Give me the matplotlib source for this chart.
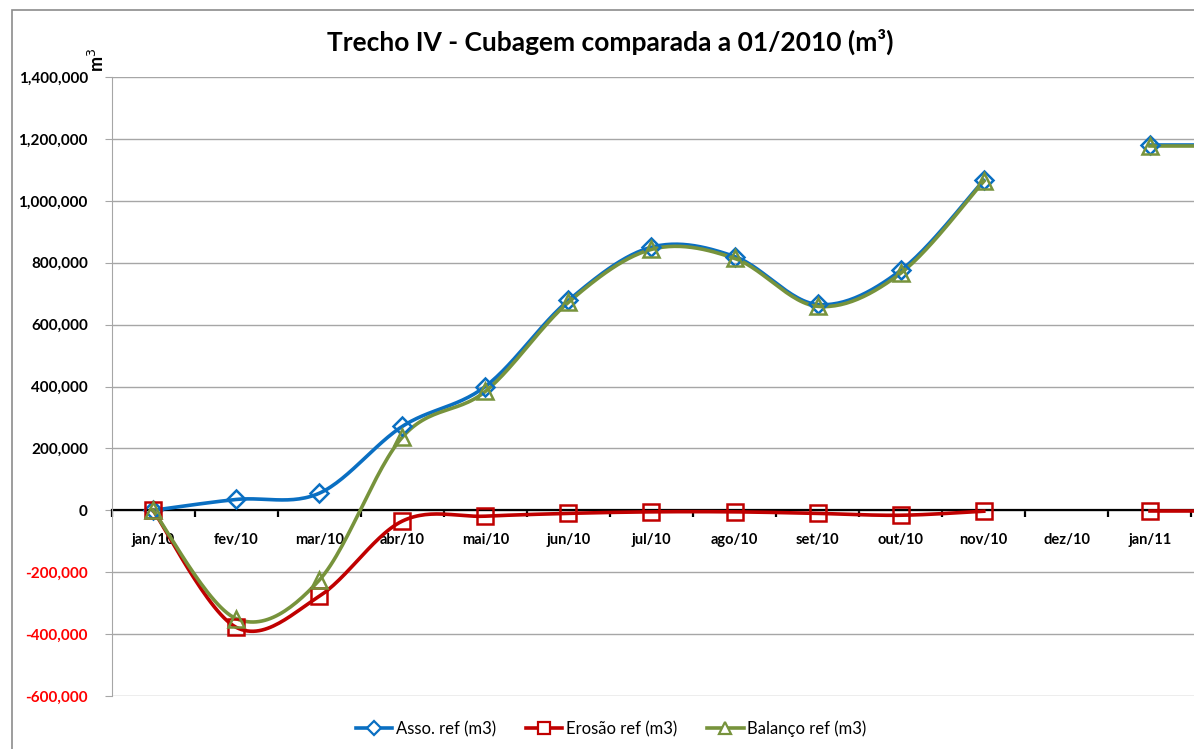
import numpy as np
import matplotlib.pyplot as plt
from matplotlib.lines import Line2D
from matplotlib.patches import Rectangle
import matplotlib.ticker as ticker

plt.rcParams['font.family'] = ['Lato', 'DejaVu Sans']

meses = ["jan/10", "fev/10", "mar/10", "abr/10", "mai/10", "jun/10", "jul/10",
         "ago/10", "set/10", "out/10", "nov/10", "dez/10", "jan/11", "fev/11"]

# dez/10 sem medição (None)
asso = [0, 35000, 55000, 271000, 400000, 678000, 850000,
        820000, 665000, 775000, 1066000, None, 1179000, 1179000]
erosao = [0, -378000, -278000, -35000, -19000, -10000, -5000,
          -5000, -10000, -16000, -3000, None, -2000, -2000]
balanco = [0, -350000, -226000, 236000, 384000, 672000, 843000,
           814000, 659000, 766000, 1063000, None, 1176000, 1176000]

series = [
    ("Asso. ref (m3)", asso, "#0A6FC2", "D", 9),
    ("Erosão ref (m3)", erosao, "#C00000", "s", 12),
    ("Balanço ref (m3)", balanco, "#77933C", "^", 11),
]


def suavizar(xs, ys, n=30):
    # curva tipo Excel (Catmull-Rom em Bezier cúbica)
    xs = np.asarray(xs, float)
    ys = np.asarray(ys, float)
    if len(xs) < 2:
        return xs, ys
    px, py = [], []
    for i in range(len(xs) - 1):
        x0, y0 = xs[max(i - 1, 0)], ys[max(i - 1, 0)]
        x1, y1 = xs[i], ys[i]
        x2, y2 = xs[i + 1], ys[i + 1]
        x3, y3 = xs[min(i + 2, len(xs) - 1)], ys[min(i + 2, len(xs) - 1)]
        c1x, c1y = x1 + (x2 - x0) / 6, y1 + (y2 - y0) / 6
        c2x, c2y = x2 - (x3 - x1) / 6, y2 - (y3 - y1) / 6
        t = np.linspace(0, 1, n)
        bx = (1-t)**3*x1 + 3*(1-t)**2*t*c1x + 3*(1-t)*t**2*c2x + t**3*x2
        by = (1-t)**3*y1 + 3*(1-t)**2*t*c1y + 3*(1-t)*t**2*c2y + t**3*y2
        px.extend(bx)
        py.extend(by)
    return np.array(px), np.array(py)


fig = plt.figure(figsize=(11.94, 7.49), dpi=100)
fig.patches.append(Rectangle((12/1194, -0.1), 1.2, 1 - 10/749 + 0.1,
                             transform=fig.transFigure, fill=False,
                             edgecolor="#8C8C8C", linewidth=1.2))

ax = fig.add_axes([111.5/1194, 1 - 696/749, 1163/1194, 619/749])
ax.set_facecolor("none")

for nome, vals, cor, mk, ms in series:
    # segmentos contínuos (quebra onde falta valor)
    seg_x, seg_y = [], []
    segs = []
    for i, v in enumerate(vals):
        if v is None:
            if seg_x:
                segs.append((seg_x, seg_y))
            seg_x, seg_y = [], []
        else:
            seg_x.append(i)
            seg_y.append(v)
    if seg_x:
        segs.append((seg_x, seg_y))
    for sx, sy in segs:
        cx, cy = suavizar(sx, sy)
        ax.plot(cx, cy, color=cor, linewidth=2.6, zorder=3)
        ax.plot(sx, sy, linestyle="none", marker=mk, markersize=ms,
                markerfacecolor="none", markeredgecolor=cor,
                markeredgewidth=1.8, zorder=4)

ax.set_xlim(-0.5, len(meses) - 0.5)
ax.set_ylim(-600000, 1400000)
ax.yaxis.set_major_locator(ticker.MultipleLocator(200000))
ax.yaxis.set_major_formatter(ticker.FuncFormatter(lambda v, p: f"{v:,.0f}"))
ax.grid(axis="y", color="#A6A6A6", linewidth=1.0, zorder=0)

ax.spines["top"].set_visible(False)
ax.spines["right"].set_visible(False)
ax.spines["left"].set_color("#A6A6A6")
ax.spines["bottom"].set_position(("data", 0))
ax.spines["bottom"].set_color("black")
ax.spines["bottom"].set_linewidth(1.6)
ax.spines["bottom"].set_zorder(2)

# só os meses visíveis recebem rótulo (fev/11 fica fora do recorte)
visiveis = meses[:-1]
ax.set_xticks(range(len(visiveis)))
ax.set_xticklabels(visiveis, fontsize=10.5, fontweight="bold")
ax.set_xticks(np.arange(-0.5, len(meses), 1), minor=True)
ax.tick_params(axis="x", which="major", length=0, pad=16)
ax.tick_params(axis="x", which="minor", length=5, width=1.6, direction="out", color="black")
ax.tick_params(axis="y", length=5, color="#A6A6A6", labelsize=11, pad=12)
fig.canvas.draw()
for lbl in ax.get_yticklabels():
    lbl.set_fontweight("bold")
    if lbl.get_position()[1] < 0:
        lbl.set_color("red")

fig.text(610/1194, 1 - 42/749, "Trecho IV - Cubagem comparada a 01/2010 (m³)",
         ha="center", va="center", fontsize=19, fontweight="bold")
fig.text(97/1194, 1 - 60/749, "m$^3$", rotation=90, ha="center", va="center",
         fontsize=13, fontweight="bold")

handles = [Line2D([0], [0], color=cor, linewidth=2.6, marker=mk, markersize=ms * 0.75,
                  markerfacecolor="white", markeredgecolor=cor, markeredgewidth=1.6)
           for nome, vals, cor, mk, ms in series]
fig.legend(handles, [s[0] for s in series], loc="center", bbox_to_anchor=(611/1194, 1 - 729/749),
           ncol=3, frameon=False, fontsize=12, handlelength=2.2, handletextpad=0.2,
           columnspacing=1.8)

fig.savefig("out.png", dpi=100)
